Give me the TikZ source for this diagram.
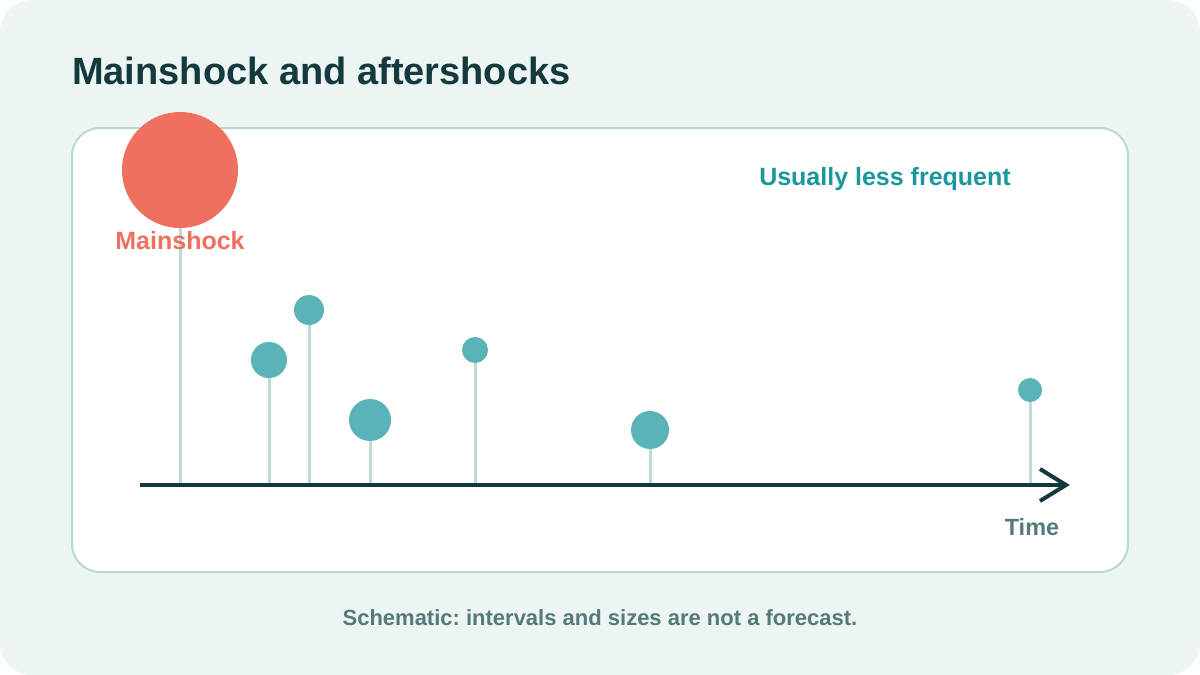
\documentclass[tikz,border=0pt]{standalone}
\usepackage{fontspec}
\setmainfont{Liberation Sans}
\usetikzlibrary{backgrounds}
\frenchspacing
\definecolor{bgc}{HTML}{ECF5F2}
\definecolor{panelline}{HTML}{B9D9D2}
\definecolor{dark}{HTML}{143A40}
\definecolor{coral}{HTML}{F07060}
\definecolor{teal}{HTML}{5AB3B8}
\definecolor{tealtxt}{HTML}{1A979C}
\definecolor{stemc}{HTML}{BCDCD6}
\definecolor{greytxt}{HTML}{557A7A}
\tikzset{
  shock/.style={circle, fill=teal, draw=none, inner sep=0pt, minimum size=#1},
  stemline/.style={draw=stemc, line width=3pt},
  lbl/.style={font=\bfseries\fontsize{#1}{#1}\selectfont, inner sep=0pt, anchor=base},
}
\begin{document}
\begin{tikzpicture}[x=1pt,y=-1pt]
\useasboundingbox (0,0) rectangle (1200,675);
% axis
\coordinate (a0) at (140,485);
\coordinate (a1) at (1066,485);
% shocks
\node[shock=116pt, fill=coral] (m) at (180,170) {};
\node[shock=36pt] (s1) at (269,360) {};
\node[shock=30pt] (s2) at (309,310) {};
\node[shock=42pt] (s3) at (370,420) {};
\node[shock=26pt] (s4) at (475,350) {};
\node[shock=38pt] (s5) at (650,430) {};
\node[shock=24pt] (s6) at (1030,390) {};
\begin{scope}[on background layer]
\fill[white] (0,0) rectangle (1200,675);
\fill[bgc, rounded corners=32pt] (0,0) rectangle (1200,675);
\draw[panelline, fill=white, line width=2pt, rounded corners=28pt] (72,128) rectangle (1128,572);
\foreach \s in {s1,s2,s3,s4,s5,s6}{\draw[stemline] (\s.south) -- (\s.south |- a0);}
\draw[stemline] (m.south) -- (m.south |- a0);
\end{scope}
\draw[dark, line width=4pt] (a0) -- (a1);
\draw[dark, line width=4pt, line cap=butt] (1040,469) -- (1066,485) -- (1040,501);
% texts
\node[lbl=38, text=dark, anchor=base west] (title) at (72,84) {Mainshock and aftershocks};
\node[lbl=25, text=coral] (ml) at (180,249) {Mainshock};
\node[lbl=25, text=tealtxt] (ul) at (885,185) {Usually less frequent};
\node[lbl=23.5, text=greytxt] (tl) at (1032,535) {Time};
\node[lbl=22, text=greytxt] (cap) at (600,625) {Schematic: intervals and sizes are not a forecast.};
\end{tikzpicture}
\end{document}
